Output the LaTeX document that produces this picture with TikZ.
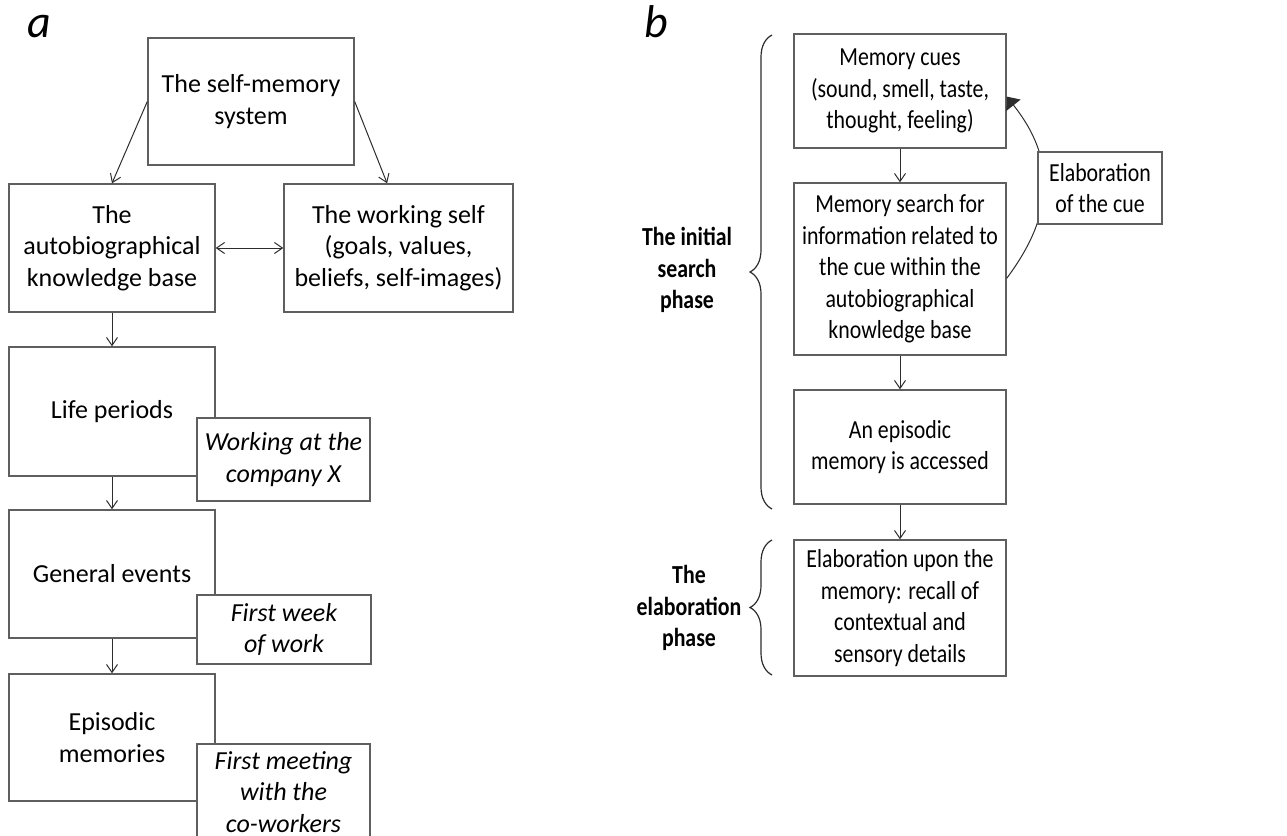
\documentclass[tikz,border=0pt]{standalone}
\usepackage{fontspec}
\setmainfont{Carlito}
\newfontfamily\narrowfont{Carlito}[FakeStretch=0.84]
\usetikzlibrary{arrows.meta,decorations.pathreplacing}
\definecolor{boxline}{RGB}{95,95,95}
\definecolor{arrowline}{RGB}{45,45,45}

\begin{document}
\begin{tikzpicture}[x=0.5pt,y=-0.5pt,
  every node/.style={font=\fontsize{13}{15.8}\selectfont,align=center,inner sep=0pt},
  box/.style={draw=boxline,line width=0.7pt,fill=white,minimum width=103pt,minimum height=64pt},
  example/.style={box,font=\fontsize{13}{15.8}\selectfont\itshape,minimum width=86.5pt},
  stagebox/.style={box,font=\fontsize{13}{15.8}\narrowfont,minimum width=106pt},
  link/.style={draw=arrowline,line width=0.5pt,-{Straight Barb[length=4pt,width=5.5pt]}},
  phase/.style={font=\fontsize{13}{15.8}\narrowfont\bfseries},
  panel/.style={font=\fontsize{23}{26}\selectfont\itshape},
  phasebrace/.style={draw=arrowline,line width=0.6pt,decorate,decoration={brace,amplitude=11pt}}]
  \useasboundingbox (0,0) rectangle (1287,836);
  \clip (0,0) rectangle (1287,836);

  % panel a
  \node[panel] (pa) at (39,27) {a};
  \node[box,minimum height=63.5pt] (sms) at (251,101.5) {The self-memory\\system};
  \node[box] (abk) at (112,248) {The\\autobiographical\\knowledge base};
  \node[box,minimum width=114.5pt] (ws) at (398.5,248) {The working self\\(goals, values,\\beliefs, self-images)};
  \node[box,minimum height=64.5pt] (life) at (112,411.5) {Life periods};
  \node[box] (gen) at (112,574) {General events};
  \node[box,minimum height=63.5pt] (epi) at (112,737.5) {Episodic\\memories};
  \node[example,minimum height=41.5pt] (exlife) at (283.5,459.5) {Working at the\\company X};
  \node[example,minimum width=87pt,minimum height=34.5pt] (exgen) at (284,629.5) {First week\\of work};
  \node[example,minimum height=48pt] (exepi) at (283.5,792) {First meeting\\with the\\co-workers};

  \draw[link] (sms.west) -- (abk.north);
  \draw[link] (sms.east) -- (ws.100);
  \draw[link,{Straight Barb[length=4pt,width=5.5pt]}-{Straight Barb[length=4pt,width=5.5pt]}] (abk) -- (ws);
  \draw[link] (abk) -- (life);
  \draw[link] (life) -- (gen);
  \draw[link] (gen) -- (epi);

  % panel b
  \node[panel] (pb) at (656,22) {b};
  \node[stagebox,minimum height=57pt] (cues) at (900,91) {Memory cues\\(sound, smell, taste,\\thought, feeling)};
  \node[stagebox,minimum height=86pt] (search) at (900,269) {Memory search for\\information related to\\the cue within the\\autobiographical\\knowledge base};
  \node[stagebox,minimum height=57pt] (access) at (900,447) {An episodic\\memory is accessed};
  \node[stagebox,minimum height=68pt] (recall) at (900,608) {Elaboration upon the\\memory: recall of\\contextual and\\sensory details};

  \draw[link] (cues) -- (search);
  \draw[link] (search) -- (access);
  \draw[link] (access) -- (recall);
  \draw[draw=arrowline,line width=0.5pt,-{Triangle[length=5.5pt,width=9pt]}]
    (search.-5) .. controls (1054,215) and (1057,160) .. (cues.-3);
  \node[stagebox,minimum width=62pt,minimum height=36pt] (cue) at (1100,188) {Elaboration\\of the cue};

  \draw[phasebrace] (772,509) -- (772,35);
  \draw[phasebrace] (772,675) -- (772,540);
  \node[phase] (initial) at (687,270) {The initial\\search\\phase};
  \node[phase] (elab) at (689,608) {The\\elaboration\\phase};
\end{tikzpicture}
\end{document}
